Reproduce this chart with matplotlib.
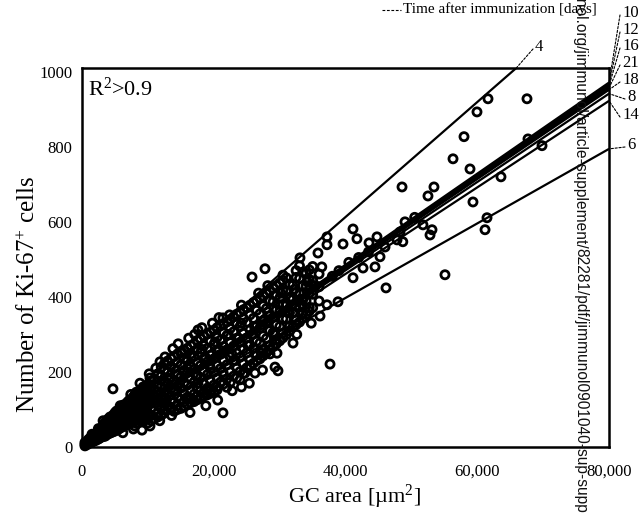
import numpy as np
import matplotlib.pyplot as plt
from matplotlib.ticker import FuncFormatter

plt.rcParams['font.family'] = ['Liberation Serif', 'DejaVu Serif']
plt.rcParams['mathtext.fontset'] = 'custom'
plt.rcParams['mathtext.rm'] = 'Liberation Serif'
plt.rcParams['mathtext.it'] = 'Liberation Serif:italic'

# dense cloud near the origin: one GC-area column, several Ki-67 counts each
core_area = [450, 980, 1520, 2050, 2480, 3010, 3530, 3980, 4520, 5040, 5490, 6020,
             6510, 6980, 7530, 8010, 8470, 9030, 9520, 10010, 10980, 12030, 12990,
             13970, 15020, 15990, 17010, 17980, 19030, 20010, 21020, 21990, 23010,
             23980, 25010, 26020, 27010, 27990, 29010, 30020, 31010, 31990, 33020,
             34010, 35020, 35990]
core_ki67 = [
    [3, 7, 12], [9, 14, 20], [13, 19, 27, 34], [17, 26, 35], [21, 30, 41, 49],
    [27, 37, 49], [29, 43, 55, 66], [35, 49, 61, 75], [39, 54, 71], [43, 61, 77, 92],
    [47, 65, 85], [53, 71, 91, 106], [57, 79, 97], [61, 83, 105, 121], [67, 91, 113],
    [56, 71, 95, 119, 139], [77, 103, 127], [81, 107, 133, 153], [87, 115, 141],
    [64, 91, 117, 145, 167], [75, 97, 125, 153, 181], [85, 103, 131, 161, 189, 213],
    [111, 141, 169, 199, 229], [95, 119, 147, 177, 209, 241],
    [103, 127, 157, 187, 219, 251], [113, 133, 165, 199, 229, 263],
    [121, 141, 173, 207, 241, 275], [131, 149, 185, 217, 251, 289],
    [139, 157, 193, 227, 263, 301], [147, 165, 199, 235, 273, 311],
    [173, 209, 247, 285, 323], [159, 181, 219, 259, 297, 333],
    [189, 231, 269, 307, 347], [179, 201, 239, 279, 321, 359],
    [211, 251, 291, 333, 371], [223, 263, 301, 343, 385], [235, 277, 317, 355, 397],
    [251, 289, 331, 369, 409], [267, 305, 345, 387, 423], [283, 321, 361, 397, 437],
    [299, 341, 377, 415, 451], [319, 357, 393, 431], [333, 373, 409, 449, 483],
    [353, 389, 429, 463], [371, 407, 443, 481], [389, 427, 461],
]
# second, staggered set of columns filling the same cloud
core2_area = [750, 1250, 1780, 2260, 2740, 3270, 3760, 4250, 4780, 5260, 5760, 6270,
              6740, 7260, 7770, 8240, 8760, 9270, 9770, 10500, 11500, 12500, 13500,
              14500, 15500, 16500, 17500, 18500, 19500, 20500, 21500, 22500, 23500,
              24500, 25500, 26500, 27500, 28500, 29500, 30500, 31500, 32500, 33500,
              34500]
core2_ki67 = [
    [6, 11], [11, 17, 24], [16, 24, 31], [20, 29, 38], [24, 35, 45], [28, 40, 52, 60],
    [33, 47, 59, 70], [37, 52, 66, 80], [41, 57, 73, 86], [45, 63, 81, 96],
    [50, 68, 88, 100], [55, 75, 95, 112], [59, 81, 101, 116], [63, 87, 109, 126],
    [69, 93, 117, 133], [63, 83, 107, 131, 146], [70, 90, 116, 140, 150],
    [73, 95, 121, 145, 160], [78, 101, 129, 155, 162], [70, 84, 104, 131, 159, 176],
    [80, 90, 112, 139, 167, 195], [90, 98, 118, 146, 175, 205, 222],
    [100, 126, 155, 185, 215, 236], [100, 110, 134, 162, 194, 226, 248],
    [108, 120, 142, 172, 204, 236, 258], [118, 128, 150, 182, 216, 248, 270],
    [126, 136, 158, 191, 225, 260, 284], [136, 144, 168, 202, 234, 270, 296],
    [143, 150, 176, 210, 245, 282, 306], [152, 160, 184, 218, 255, 292, 318],
    [168, 192, 230, 268, 304, 328], [172, 200, 240, 278, 316, 340],
    [184, 210, 250, 290, 328, 354], [196, 222, 262, 303, 342, 366],
    [217, 232, 272, 312, 352, 378], [230, 244, 282, 322, 364, 390],
    [243, 258, 296, 336, 376, 402], [259, 270, 310, 350, 390, 416],
    [275, 286, 326, 366, 405, 430], [291, 304, 342, 380, 417, 444],
    [309, 322, 358, 396, 434], [326, 338, 376, 412, 452], [343, 356, 392, 430, 466],
    [362, 372, 410, 446, 472],
]
# irregular GCs at the fringes and inside the cloud
fringe_area = [3200, 5800, 7400, 8800, 11200, 12600, 13800, 16200, 18200, 19800,
               22400, 24200, 26800, 28200, 30500, 32500, 14600, 10200, 20800, 17100,
               6200, 7800, 11800, 13600, 16400, 18800, 20600, 22800, 25400, 27400,
               24200, 29600, 32600, 34800,
               9400, 10800, 12200, 13200, 14200, 15400, 16600, 17600, 18200, 19400,
               20200, 21400, 22200, 23200, 24200, 25200, 26200, 27200, 28200, 29200,
               30200, 31200, 32200, 33400, 34200, 35400, 36400, 9900, 11400, 12700,
               14800, 16000, 17300, 18700, 20800, 22700, 23800, 25800, 27700, 29800,
               31700]
fringe_ki67 = [70, 110, 140, 170, 210, 240, 262, 290, 318, 330,
               352, 378, 410, 430, 458, 470, 275, 195, 345, 300,
               38, 48, 70, 84, 92, 110, 125, 150, 170, 205,
               160, 250, 300, 330,
               100, 140, 118, 180, 150, 200, 240, 170, 260, 220,
               280, 200, 300, 230, 330, 270, 320, 250, 360, 300,
               410, 360, 420, 380, 440, 430, 480, 120, 160, 130,
               170, 210, 190, 240, 260, 250, 290, 300, 340, 380,
               400]

# scattered GCs read one by one
spread_area = [61630, 67550, 59960, 57990, 56320, 58900, 67700, 69830, 63600, 59350,
               61480, 61180, 48580, 53430, 52520, 49030, 51760, 53130, 52830, 55100,
               46150, 44780, 43570, 45240, 44480, 41140, 41740, 39620, 37190, 37190,
               35820, 33090, 27780, 25810, 37650, 29300, 29750, 26260, 28540, 32030,
               36130, 38860, 37190, 41140, 42660, 47820, 48270, 4700, 21400, 15180,
               17610, 21400, 24740, 18980, 15940, 16850, 10320, 9110, 11840, 10320,
               39000, 40500, 42000, 43500, 46000, 48700, 50500, 38000, 34500, 31000]
spread_ki67 = [928, 928, 893, 827, 768, 741, 821, 803, 720, 653,
               611, 579, 693, 693, 669, 600, 592, 579, 565, 459,
               424, 560, 544, 507, 480, 581, 555, 541, 560, 539,
               517, 504, 475, 453, 221, 213, 203, 197, 248, 277,
               349, 387, 379, 451, 477, 552, 573, 155, 91, 253,
               312, 344, 197, 152, 128, 125, 56, 45, 227, 184,
               470, 492, 505, 520, 533, 547, 612, 455, 420, 380]

# regression lines (through origin) per day after immunization
days = ['4', '6', '8', '10', '12', '14', '16', '18', '21']
slopes = [0.01532, 0.00993, 0.01177, 0.01214, 0.01208, 0.01153, 0.01202, 0.0119, 0.01196]
# label positions (pixels from top-left of the figure)
label_px = {'10': (622, 13), '12': (622, 30), '16': (622, 46), '21': (622, 63),
            '18': (622, 80), '8': (627, 97), '14': (622, 115), '6': (627, 145),
            '4': (535, 47)}

W, H = 639, 517
fig = plt.figure(figsize=(W / 100, H / 100), dpi=100)
ax = fig.add_axes([82 / W, 1 - 447 / H, (609 - 82) / W, (447 - 68) / H])

xs, ys = [], []
for areas, counts in ((core_area, core_ki67), (core2_area, core2_ki67)):
    for a, ks in zip(areas, counts):
        xs += [a] * len(ks)
        ys += ks
xs += fringe_area + spread_area
ys += fringe_ki67 + spread_ki67
ax.scatter(xs, ys, s=34, facecolors='none', edgecolors='black', linewidths=2.0,
           zorder=2, clip_on=False)

xmax, ymax = 80000, 1010
xl = np.array([0, xmax])
for d, k in zip(days, slopes):
    ax.plot(xl, k * xl, color='black', lw=1.6, zorder=3, solid_capstyle='butt')
    if k * xmax > ymax:
        end = (ymax / k, ymax)
    else:
        end = (xmax, k * xmax)
    lx, ly = label_px[d]
    ax.annotate('', xy=end, xycoords='data',
                xytext=((lx - 2) / W, 1 - (ly + 2) / H), textcoords='figure fraction',
                arrowprops=dict(arrowstyle='-', lw=0.8, linestyle=(0, (2, 1.5)),
                                shrinkA=0, shrinkB=0), annotation_clip=False)
    fig.text(lx / W, 1 - ly / H, d, fontsize=12, ha='left', va='center')

ax.set_xlim(0, xmax)
ax.set_ylim(0, ymax)
ax.set_xticks([0, 20000, 40000, 60000, 80000])
ax.set_yticks([0, 200, 400, 600, 800, 1000])
ax.xaxis.set_major_formatter(FuncFormatter(lambda v, p: f'{int(v):,}'))
ax.tick_params(length=0, labelsize=12)
ax.tick_params(axis='x', pad=12)
ax.tick_params(axis='y', pad=7)
for sp in ax.spines.values():
    sp.set_linewidth(1.8)

ax.set_xlabel('GC area [µm$^2$]', fontsize=16)
ax.xaxis.set_label_coords(0.516, -0.095)
ax.set_ylabel('Number of Ki-67$^{+}$ cells', fontsize=18)
ax.yaxis.set_label_coords(-0.08, 0.404)
ax.text(0.012, 0.975, 'R$^2$>0.9', transform=ax.transAxes, fontsize=16,
        ha='left', va='top')

# header key
fig.add_artist(plt.Line2D([382 / W, 401 / W], [1 - 10 / H, 1 - 10 / H], lw=0.8,
                          color='black', linestyle=(0, (2.5, 1.5))))
fig.text(403 / W, 1 - 9 / H, 'Time after immunization [days]', fontsize=11,
         ha='left', va='center')

# download watermark running down the right side
wx, wy = 581 / W, 1 - 248 / H
fig.text(wx, wy, 'www.jimmunol.org/jimmunol/article-supplement/', fontsize=11.2,
         family='Liberation Sans', rotation=-90, rotation_mode='anchor',
         ha='right', va='center', color='#111111')
fig.text(wx, wy, '82281/pdf/jimmunol0901040-sup-supp', fontsize=11.2,
         family='Liberation Sans', rotation=-90, rotation_mode='anchor',
         ha='left', va='center', color='#111111')

fig.savefig('out.png', dpi=100)
